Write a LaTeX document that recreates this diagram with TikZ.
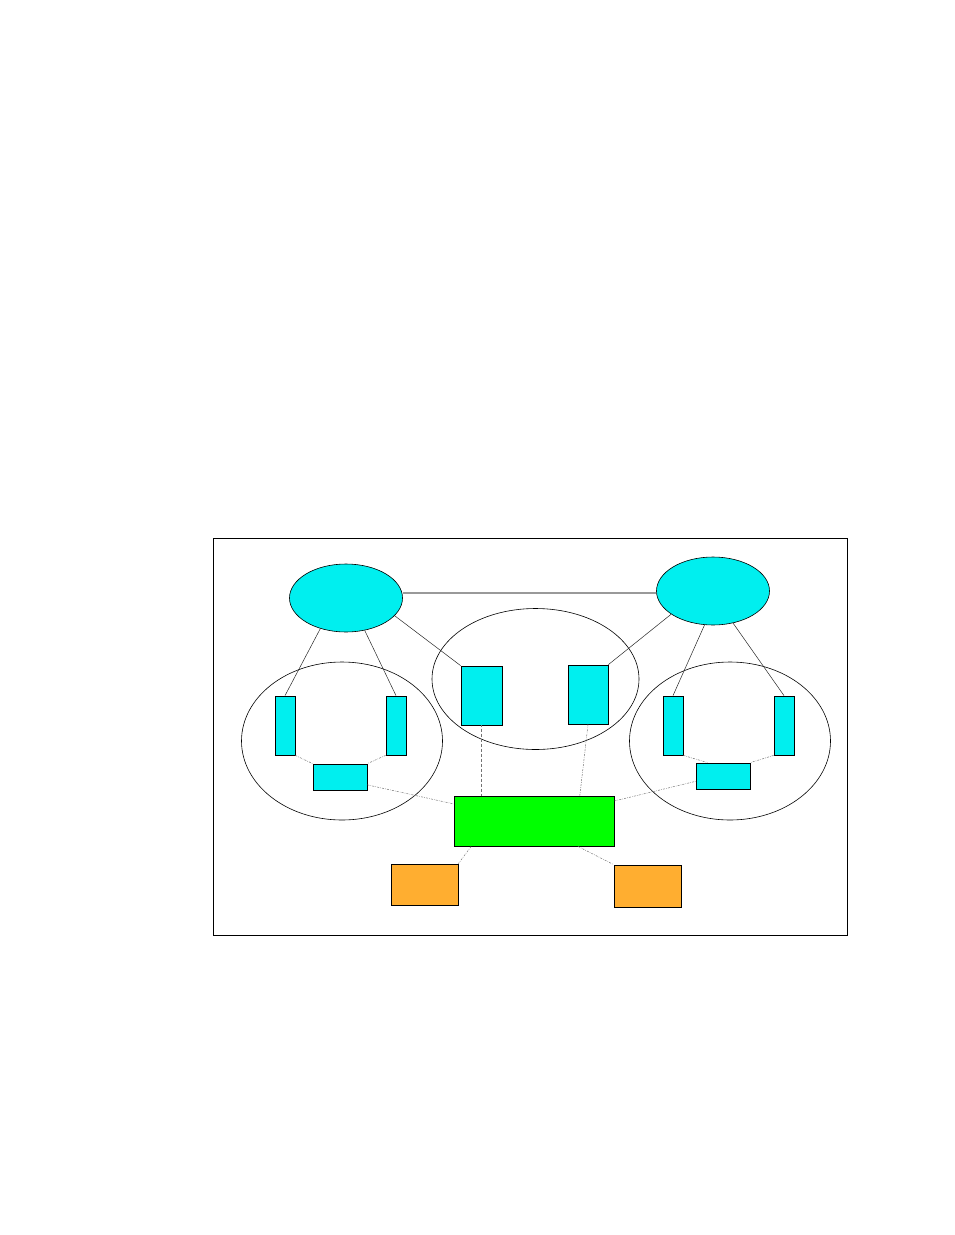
\documentclass[tikz,border=0pt]{standalone}
\usepackage{tikz}
\usetikzlibrary{shapes.geometric}
\definecolor{netcyan}{RGB}{0,239,239}
\definecolor{hubgreen}{RGB}{0,255,0}
\definecolor{outorange}{RGB}{255,174,48}
\tikzset{
    box/.style = {
        draw,
        shape=rectangle,
        fill=netcyan,
        inner sep=0pt,
        line width=0.8pt
    },
    net/.style = {
        draw,
        shape=ellipse,
        fill=netcyan,
        inner sep=0pt,
        minimum width=113pt,
        minimum height=68pt,
        line width=0.6pt
    },
    zone/.style = {
        draw,
        shape=ellipse,
        inner sep=0pt,
        line width=0.6pt
    },
    link/.style = {
        draw,
        line width=0.5pt,
        black!85
    },
    weak/.style = {
        draw,
        line width=0.5pt,
        black!55,
        dash pattern=on 2pt off 1.2pt on 0.6pt off 1.2pt
    },
}
\begin{document}
\begin{tikzpicture}[x=1pt,y=-1pt]
                \useasboundingbox (0,0) rectangle (954,1235);
                \draw[line width=0.8pt] (213,538) rectangle (847,935);

                \node[zone, minimum width=201pt, minimum height=158pt] (lzone) at (342,741) {};
                \node[zone, minimum width=207pt, minimum height=141pt] (mzone) at (535.5,679) {};
                \node[zone, minimum width=201pt, minimum height=158pt] (rzone) at (730,741) {};

                \node[net] (lnet) at (346,598) {};
                \node[net] (rnet) at (713,591) {};

                \node[box, minimum width=20pt, minimum height=59pt] (la) at (285,725.5) {};
                \node[box, minimum width=20pt, minimum height=59pt] (lb) at (396,725.5) {};
                \node[box, minimum width=54pt, minimum height=26pt] (lc) at (340,777) {};
                \node[box, minimum width=41pt, minimum height=59pt] (ma) at (481.5,695.5) {};
                \node[box, minimum width=40pt, minimum height=59pt] (mb) at (588,694.5) {};
                \node[box, minimum width=20pt, minimum height=59pt] (ra) at (673,725.5) {};
                \node[box, minimum width=20pt, minimum height=59pt] (rb) at (784,725.5) {};
                \node[box, minimum width=54pt, minimum height=26pt] (rc) at (723,776) {};

                \node[box, fill=hubgreen, minimum width=160pt, minimum height=50pt] (hub) at (534,821) {};
                \node[box, fill=outorange, minimum width=67pt, minimum height=41pt] (lout) at (424.5,884.5) {};
                \node[box, fill=outorange, minimum width=67pt, minimum height=42pt] (rout) at (647.5,886) {};

                \path[draw, black!40, line width=1.2pt] (lnet.east |- 0,593) -- (rnet.west |- 0,593);

                \path[link] (lnet.230) -- (la.north);
                \path[link] (lnet.300) -- (lb.north);
                \path[link] (lnet.340) -- (ma.north west);
                \path[link] (rnet.209) -- (mb.north east);
                \path[link] (rnet.256) -- (ra.north);
                \path[link] (rnet.302) -- (rb.north);

                \path[weak] (la.south east) -- (lc.north west);
                \path[weak] (lb.south west) -- (lc.north east);
                \path[weak] (lc.344) -- (hub.168);
                \path[weak] (ma.south) -- (ma.south |- hub.north);
                \path[weak] (mb.south) -- (hub.29);
                \path[weak] (hub.14) -- (rc.191);
                \path[weak] (ra.south east) -- (rc.139);
                \path[weak] (rb.south west) -- (rc.north east);
                \path[weak] (hub.202) -- (lout.north east);
                \path[weak] (hub.330) -- (rout.north west);
\end{tikzpicture}
\end{document}
